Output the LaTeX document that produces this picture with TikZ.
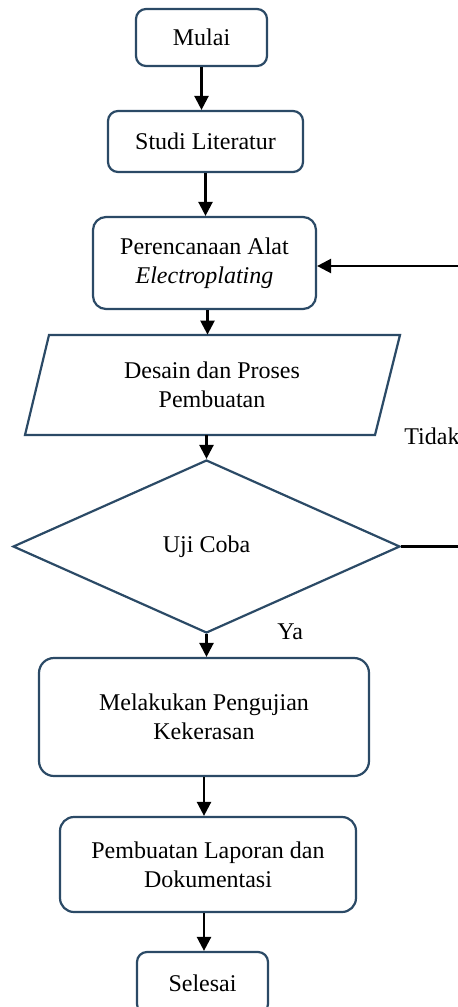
\documentclass[tikz,border=0pt]{standalone}
\usepackage{fontspec}
\setmainfont{Liberation Serif}
\usetikzlibrary{arrows.meta,shapes.geometric}
\definecolor{boxc}{HTML}{2B4A66}
\tikzset{
  box/.style={draw=boxc,line width=1.1pt,rounded corners=#1,align=center,inner sep=0pt,font=\fontsize{12}{14.5}\selectfont},
  box/.default=5pt,
  lbl/.style={inner sep=0pt,font=\fontsize{12}{14.5}\selectfont},
  arr/.style={draw=black,line width=1.2pt,-{Triangle[length=7pt,width=7pt]}},
  ln/.style={draw=black,line width=1.2pt}
}
\begin{document}
\begin{tikzpicture}[x=0.5pt,y=-0.5pt]
\useasboundingbox (0,0) rectangle (458,1007);
\node[box,minimum width=65.5pt,minimum height=28.5pt] (mulai) at (201.5,37.5) {Mulai};
\node[box,minimum width=97.5pt,minimum height=30.5pt] (studi) at (205.5,141.5) {Studi Literatur};
\node[box=6.5pt,minimum width=111.5pt,minimum height=46pt] (renc) at (204.5,263) {Perencanaan Alat\\\textit{Electroplating}};
\draw[draw=boxc,line width=1.1pt] (49,335) -- (400,335) -- (375,435) -- (25,435) -- cycle;
\node[lbl,align=center,minimum height=50pt,minimum width=150pt] (desain) at (212,385) {Desain dan Proses\\Pembuatan};
\node[draw=boxc,line width=1.1pt,diamond,aspect=2.237,inner sep=0pt,minimum width=193.5pt,minimum height=86.5pt,font=\fontsize{12}{14.5}\selectfont] (uji) at (206.5,546.5) {Uji Coba};
\node[box=7.5pt,minimum width=165pt,minimum height=59pt] (uji2) at (204,717) {Melakukan Pengujian\\Kekerasan};
\node[box=7pt,minimum width=148pt,minimum height=47.5pt] (lap) at (208,864.5) {Pembuatan Laporan dan\\Dokumentasi};
\node[box,minimum width=65.5pt,minimum height=31pt] (selesai) at (202.5,983) {Selesai};
\node[lbl,anchor=west] (tidak) at (404,436) {Tidak};
\node[lbl,anchor=west] (ya) at (277,632) {Ya};
\coordinate (back) at (464,546.5);
\draw[arr] (mulai.south) -- (mulai.south |- studi.north);
\draw[arr] (studi.south) -- (studi.south |- renc.north);
\draw[arr] ([xshift=1.5pt]renc.south) -- ([xshift=1.5pt]renc.south |- desain.north);
\draw[arr] (uji.north |- desain.south) -- (uji.north);
\draw[arr] (uji.south) -- (uji.south |- uji2.north);
\draw[arr] (uji2.south) -- (uji2.south |- lap.north);
\draw[arr] ([xshift=-2pt]lap.south) -- ([xshift=-2pt]lap.south |- selesai.north);
\draw[ln] (uji.east) -- (back);
\draw[arr] (back) |- ([yshift=-1.5pt]renc.east);
\end{tikzpicture}
\end{document}
